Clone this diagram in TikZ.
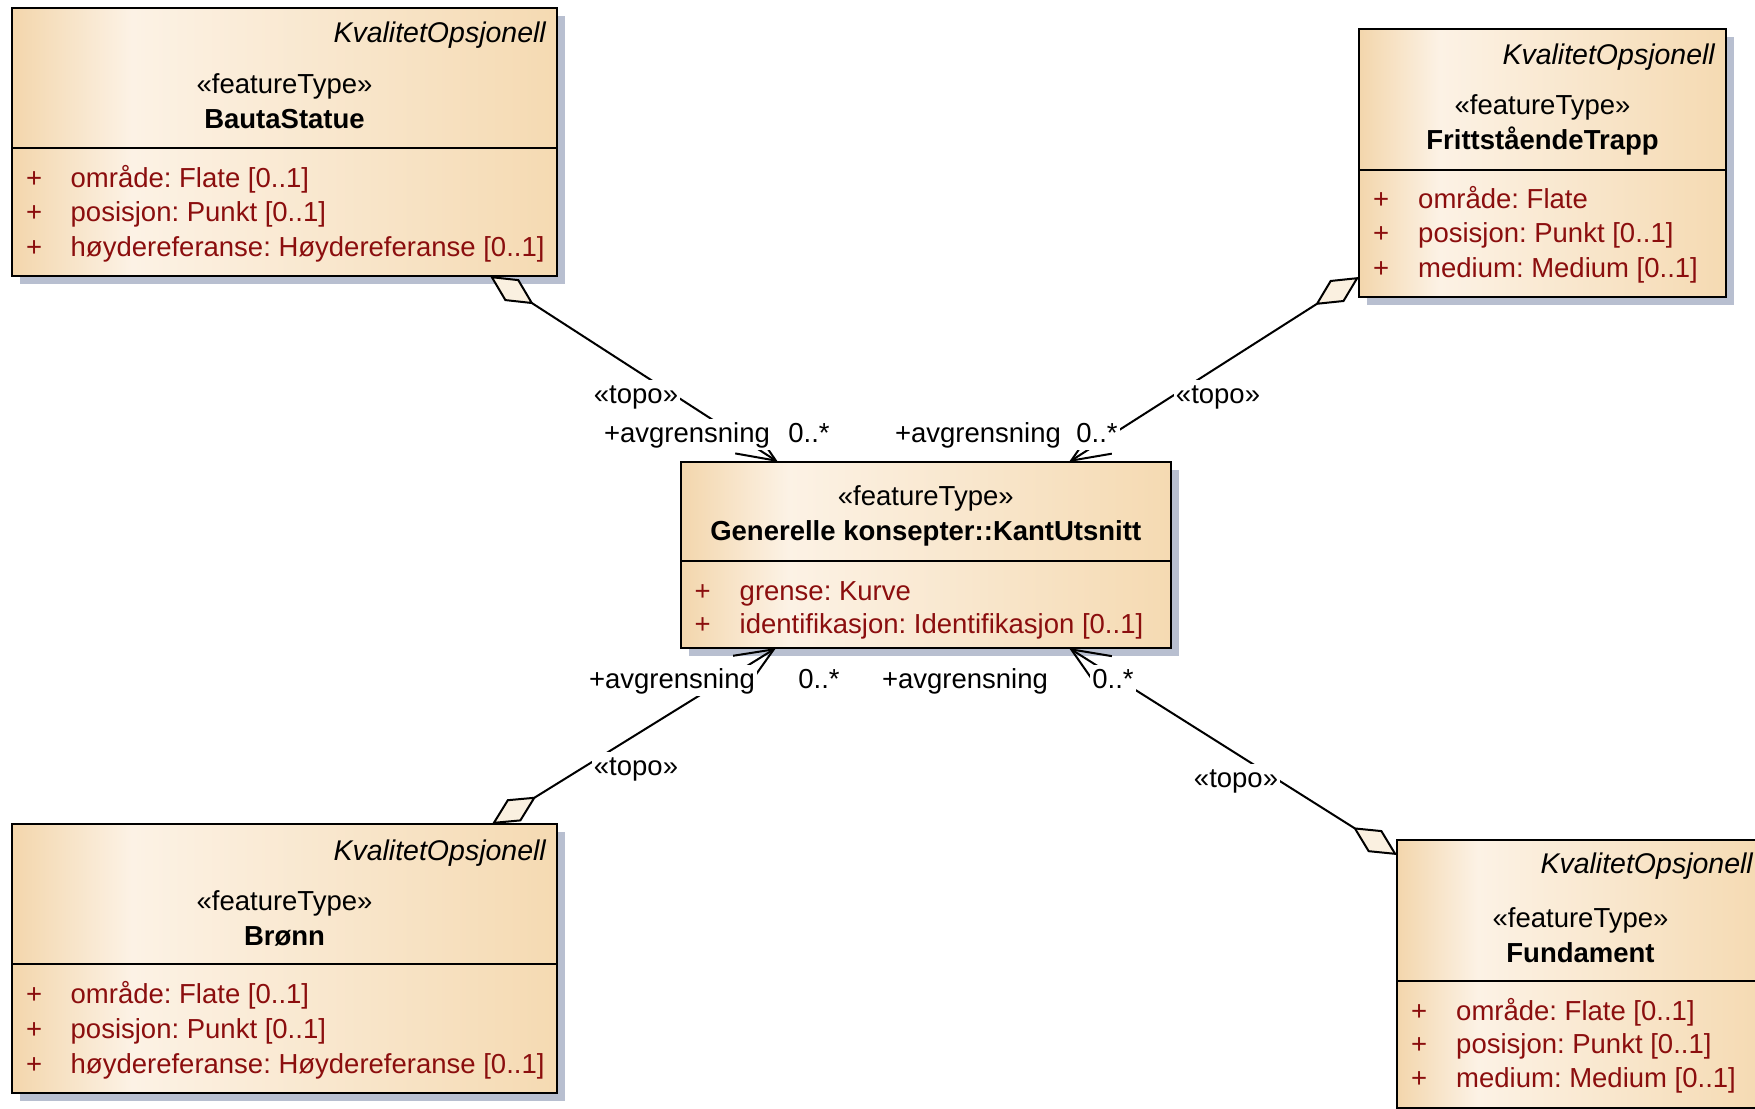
\documentclass[tikz,border=0pt]{standalone}
\usepackage{fontspec}
\setmainfont{Liberation Sans}
\usetikzlibrary{calc,arrows.meta}

\definecolor{shadowc}{RGB}{184,191,208}
\definecolor{fillleft}{RGB}{243,214,172}
\definecolor{fillmid}{RGB}{252,242,229}
\definecolor{fillright}{RGB}{245,218,178}
\definecolor{attrred}{RGB}{139,14,14}
\definecolor{diafill}{RGB}{250,240,224}

% left-to-right fill of the class boxes
\pgfdeclarehorizontalshading{classfill}{100bp}{color(0bp)=(fillleft); color(25bp)=(fillleft); color(36bp)=(fillmid); color(75bp)=(fillright); color(100bp)=(fillright)}

\newcommand{\umlsize}{\fontsize{27.5pt}{33pt}\selectfont\frenchspacing}
\newcommand{\umlsizeit}{\fontsize{28.5pt}{33pt}\selectfont\frenchspacing}

\tikzset{
  classbox/.style={rectangle, draw=black, line width=2pt, shading=classfill, shade,
    inner sep=0pt, outer sep=0pt, anchor=north west},
  boxshadow/.style={fill=shadowc},
  divider/.style={line width=2pt},
  kval/.style={font=\umlsizeit\itshape, anchor=base east, inner sep=0pt},
  stereo/.style={font=\umlsize, anchor=base, inner sep=0pt},
  cname/.style={font=\umlsize\bfseries, anchor=base, inner sep=0pt},
  plus/.style={font=\umlsize, text=attrred, anchor=base west, inner sep=0pt},
  attr/.style={font=\umlsize, text=attrred, anchor=base west, inner sep=0pt},
  assoc/.style={line width=2pt,
    {Diamond[fill=diafill, length=52pt, width=26pt]}-{Straight Barb[length=38pt, width=32pt]}},
  lbl/.style={font=\umlsize, fill=white, inner xsep=2pt, inner ysep=2pt,
    text height=21pt, text depth=6pt, anchor=base},
}

\begin{document}
\begin{tikzpicture}[x=1pt, y=-1pt]
\useasboundingbox (0,0) rectangle (1755,1108);
\clip (0,0) rectangle (1755,1108);

% ---------- shadows ----------
\fill[boxshadow] (20,16) rectangle (565,284);
\fill[boxshadow] (1367,37) rectangle (1734,305);
\fill[boxshadow] (688.5,470) rectangle (1179,656);
\fill[boxshadow] (20,832) rectangle (565,1101);
\fill[boxshadow] (1405,848) rectangle (1772,1116);

% ---------- class boxes ----------
\node[classbox, minimum width=545pt, minimum height=268pt] (bauta) at (12,8) {};
\node[classbox, minimum width=367pt, minimum height=268pt] (fritt) at (1359,29) {};
\node[classbox, minimum width=490.5pt, minimum height=186pt] (kant) at (680.5,462) {};
\node[classbox, minimum width=545pt, minimum height=269pt] (bronn) at (12,824) {};
\node[classbox, minimum width=367pt, minimum height=268pt] (fund) at (1397,840) {};

% BautaStatue
\node[kval] (bautaK) at ($(bauta.north east)+(-11,35)$) {KvalitetOpsjonell};
\node[stereo] (bautaS) at ($(bauta.north)+(0,85)$) {«featureType»};
\node[cname] (bautaN) at ($(bauta.north)+(0,120)$) {BautaStatue};
\draw[divider] ($(bauta.north west)+(0,140)$) -- ($(bauta.north east)+(0,140)$);
\node[plus] (bautaP1) at ($(bauta.north west)+(14,179)$) {+};
\node[attr] (bautaA1) at ($(bauta.north west)+(58.5,179)$) {område: Flate [0..1]};
\node[plus] (bautaP2) at ($(bauta.north west)+(14,213)$) {+};
\node[attr] (bautaA2) at ($(bauta.north west)+(58.5,213)$) {posisjon: Punkt [0..1]};
\node[plus] (bautaP3) at ($(bauta.north west)+(14,248)$) {+};
\node[attr] (bautaA3) at ($(bauta.north west)+(58.5,248)$) {høydereferanse: Høydereferanse [0..1]};

% FrittståendeTrapp
\node[kval] (frittK) at ($(fritt.north east)+(-11,35)$) {KvalitetOpsjonell};
\node[stereo] (frittS) at ($(fritt.north)+(0,85)$) {«featureType»};
\node[cname] (frittN) at ($(fritt.north)+(0,120)$) {FrittståendeTrapp};
\draw[divider] ($(fritt.north west)+(0,141)$) -- ($(fritt.north east)+(0,141)$);
\node[plus] (frittP1) at ($(fritt.north west)+(14,179)$) {+};
\node[attr] (frittA1) at ($(fritt.north west)+(59,179)$) {område: Flate};
\node[plus] (frittP2) at ($(fritt.north west)+(14,213)$) {+};
\node[attr] (frittA2) at ($(fritt.north west)+(59,213)$) {posisjon: Punkt [0..1]};
\node[plus] (frittP3) at ($(fritt.north west)+(14,248)$) {+};
\node[attr] (frittA3) at ($(fritt.north west)+(59,248)$) {medium: Medium [0..1]};

% Generelle konsepter::KantUtsnitt
\node[stereo] (kantS) at ($(kant.north)+(0,43)$) {«featureType»};
\node[cname] (kantN) at ($(kant.north)+(0,78)$) {Generelle konsepter::KantUtsnitt};
\draw[divider] ($(kant.north west)+(0,99)$) -- ($(kant.north east)+(0,99)$);
\node[plus] (kantP1) at ($(kant.north west)+(14,138)$) {+};
\node[attr] (kantA1) at ($(kant.north west)+(59,138)$) {grense: Kurve};
\node[plus] (kantP2) at ($(kant.north west)+(14,171)$) {+};
\node[attr] (kantA2) at ($(kant.north west)+(59,171)$) {identifikasjon: Identifikasjon [0..1]};

% Brønn
\node[kval] (bronnK) at ($(bronn.north east)+(-11,36)$) {KvalitetOpsjonell};
\node[stereo] (bronnS) at ($(bronn.north)+(0,86)$) {«featureType»};
\node[cname] (bronnN) at ($(bronn.north)+(0,121)$) {Brønn};
\draw[divider] ($(bronn.north west)+(0,140)$) -- ($(bronn.north east)+(0,140)$);
\node[plus] (bronnP1) at ($(bronn.north west)+(14,179)$) {+};
\node[attr] (bronnA1) at ($(bronn.north west)+(58.5,179)$) {område: Flate [0..1]};
\node[plus] (bronnP2) at ($(bronn.north west)+(14,214)$) {+};
\node[attr] (bronnA2) at ($(bronn.north west)+(58.5,214)$) {posisjon: Punkt [0..1]};
\node[plus] (bronnP3) at ($(bronn.north west)+(14,249)$) {+};
\node[attr] (bronnA3) at ($(bronn.north west)+(58.5,249)$) {høydereferanse: Høydereferanse [0..1]};

% Fundament
\node[kval] (fundK) at ($(fund.north east)+(-11,33)$) {KvalitetOpsjonell};
\node[stereo] (fundS) at ($(fund.north)+(0,87)$) {«featureType»};
\node[cname] (fundN) at ($(fund.north)+(0,122)$) {Fundament};
\draw[divider] ($(fund.north west)+(0,141)$) -- ($(fund.north east)+(0,141)$);
\node[plus] (fundP1) at ($(fund.north west)+(14,180)$) {+};
\node[attr] (fundA1) at ($(fund.north west)+(59,180)$) {område: Flate [0..1]};
\node[plus] (fundP2) at ($(fund.north west)+(14,213)$) {+};
\node[attr] (fundA2) at ($(fund.north west)+(59,213)$) {posisjon: Punkt [0..1]};
\node[plus] (fundP3) at ($(fund.north west)+(14,247)$) {+};
\node[attr] (fundA3) at ($(fund.north west)+(59,247)$) {medium: Medium [0..1]};

% ---------- associations (aggregation ends on the feature types) ----------
\coordinate (d1) at ($(bauta.south west)+(478,0)$);
\coordinate (a1) at ($(kant.north west)+(97.5,0)$);
\coordinate (d2) at ($(fritt.north west)+(0,248)$);
\coordinate (a2) at ($(kant.north east)+(-102,0)$);
\coordinate (d3) at ($(bronn.north west)+(480,0)$);
\coordinate (a3) at ($(kant.south west)+(95.5,0)$);
\coordinate (d4) at ($(fund.north west)+(0,15)$);
\coordinate (a4) at ($(kant.south east)+(-102,0)$);

\draw[assoc] (d1) -- (a1);
\draw[assoc] (d2) -- (a2);
\draw[assoc] (d3) -- (a3);
\draw[assoc] (d4) -- (a4);

% ---------- association labels ----------
\node[lbl] (t1) at (636,403) {«topo»};
\node[lbl] (r1) at (687,442) {+avgrensning};
\node[lbl] (m1) at (809,442) {0..*};

\node[lbl] (t2) at (1218,403) {«topo»};
\node[lbl] (r2) at (978,442) {+avgrensning};
\node[lbl] (m2) at (1097,442) {0..*};

\node[lbl] (t3) at (636,775) {«topo»};
\node[lbl] (r3) at (672,688) {+avgrensning};
\node[lbl] (m3) at (819,688) {0..*};

\node[lbl] (t4) at (1236,787) {«topo»};
\node[lbl] (r4) at (965,688) {+avgrensning};
\node[lbl] (m4) at (1113,688) {0..*};
\end{tikzpicture}
\end{document}
